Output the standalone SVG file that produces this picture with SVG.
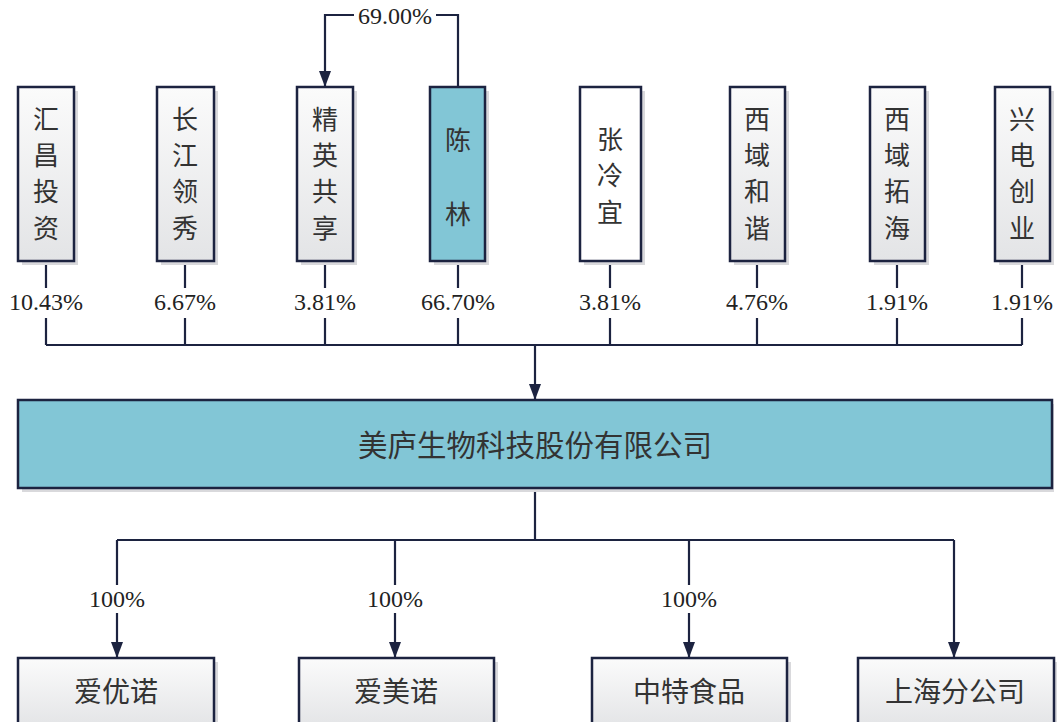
<svg xmlns="http://www.w3.org/2000/svg" width="1057" height="722" viewBox="0 0 1057 722">
<defs>
<linearGradient id="g" x1="0" y1="0" x2="0" y2="1">
<stop offset="0" stop-color="#fbfbfb"/><stop offset="1" stop-color="#e3e4e6"/>
</linearGradient>
<marker id="ad" viewBox="0 0 12 16" refX="6" refY="16" markerWidth="12" markerHeight="16" markerUnits="userSpaceOnUse" orient="0">
<path d="M0,0 L12,0 L6,16 Z" fill="#1c2340"/>
</marker>
</defs>
<style>
.box{fill:url(#g);stroke:#1c2340;stroke-width:2.5}
.blue{fill:#82c6d6;stroke:#1c2340;stroke-width:2.5}
.wht{fill:#ffffff;stroke:#1c2340;stroke-width:2.5}
.sh{fill:#d9d9dc}
.cj{font-family:"Noto Sans CJK SC","Noto Sans",sans-serif;font-size:28px;fill:#333;text-anchor:middle;dominant-baseline:central}
.v{font-size:26px}
.m{font-size:29.5px}
.pc{font-family:"Liberation Serif",serif;font-size:24px;fill:#222;text-anchor:middle;dominant-baseline:central}
.ln{fill:none;stroke:#1c2340;stroke-width:2.2}
</style>
<g id="connectors">
<path class="ln" d="M458,87 V15 H436"/>
<path class="ln" d="M354,15 H325 V87" marker-end="url(#ad)"/>
<path class="ln" d="M46,261 V288 M185,261 V288 M325,261 V288 M458,261 V288 M610,261 V288 M757,261 V288 M897,261 V288 M1022,261 V288"/>
<path class="ln" d="M46,318 V345 M185,318 V345 M325,318 V345 M458,318 V345 M610,318 V345 M757,318 V345 M897,318 V345 M1022,318 V345 M46,345 H1022"/>
<path class="ln" d="M535,345 V400" marker-end="url(#ad)"/>
<path class="ln" d="M535,488 V540 M117,540 H954 M117,540 V585 M395,540 V585 M689,540 V585"/>
<path class="ln" d="M117,613 V658" marker-end="url(#ad)"/>
<path class="ln" d="M395,613 V658" marker-end="url(#ad)"/>
<path class="ln" d="M689,613 V658" marker-end="url(#ad)"/>
<path class="ln" d="M954,540 V658" marker-end="url(#ad)"/>
<text class="pc" x="395" y="16">69.00%</text>
<text class="pc" x="46" y="302">10.43%</text>
<text class="pc" x="185" y="302">6.67%</text>
<text class="pc" x="325" y="302">3.81%</text>
<text class="pc" x="458" y="302">66.70%</text>
<text class="pc" x="610" y="302">3.81%</text>
<text class="pc" x="757" y="302">4.76%</text>
<text class="pc" x="897" y="302">1.91%</text>
<text class="pc" x="1022" y="302">1.91%</text>
<text class="pc" x="117" y="599">100%</text>
<text class="pc" x="395" y="599">100%</text>
<text class="pc" x="689" y="599">100%</text>
</g>
<g id="n1"><rect class="sh" x="22" y="91" width="56" height="174"/><rect class="box" x="18" y="87" width="56" height="174"/>
<text class="cj v" x="46" y="117">汇</text><text class="cj v" x="46" y="153">昌</text><text class="cj v" x="46" y="189">投</text><text class="cj v" x="46" y="226">资</text></g>
<g id="n2"><rect class="sh" x="161" y="91" width="57" height="174"/><rect class="box" x="157" y="87" width="57" height="174"/>
<text class="cj v" x="185" y="117">长</text><text class="cj v" x="185" y="153">江</text><text class="cj v" x="185" y="189">领</text><text class="cj v" x="185" y="226">秀</text></g>
<g id="n3"><rect class="sh" x="301" y="91" width="56" height="174"/><rect class="box" x="297" y="87" width="56" height="174"/>
<text class="cj v" x="325" y="117">精</text><text class="cj v" x="325" y="153">英</text><text class="cj v" x="325" y="189">共</text><text class="cj v" x="325" y="226">享</text></g>
<g id="n4"><rect class="sh" x="434" y="91" width="55" height="174"/><rect class="blue" x="430" y="87" width="55" height="174"/>
<text class="cj v" x="458" y="138">陈</text><text class="cj v" x="458" y="212">林</text></g>
<g id="n5"><rect class="sh" x="584" y="91" width="61" height="174"/><rect class="wht" x="580" y="87" width="61" height="174"/>
<text class="cj v" x="610" y="137">张</text><text class="cj v" x="610" y="173">冷</text><text class="cj v" x="610" y="210">宜</text></g>
<g id="n6"><rect class="sh" x="734" y="91" width="55" height="174"/><rect class="box" x="730" y="87" width="55" height="174"/>
<text class="cj v" x="757" y="117">西</text><text class="cj v" x="757" y="153">域</text><text class="cj v" x="757" y="189">和</text><text class="cj v" x="757" y="226">谐</text></g>
<g id="n7"><rect class="sh" x="874" y="91" width="55" height="174"/><rect class="box" x="870" y="87" width="55" height="174"/>
<text class="cj v" x="897" y="117">西</text><text class="cj v" x="897" y="153">域</text><text class="cj v" x="897" y="189">拓</text><text class="cj v" x="897" y="226">海</text></g>
<g id="n8"><rect class="sh" x="999" y="91" width="55" height="174"/><rect class="box" x="995" y="87" width="55" height="174"/>
<text class="cj v" x="1022" y="117">兴</text><text class="cj v" x="1022" y="153">电</text><text class="cj v" x="1022" y="189">创</text><text class="cj v" x="1022" y="226">业</text></g>
<g id="main"><rect class="sh" x="22" y="404" width="1032" height="88"/><rect class="blue" x="18" y="400" width="1034" height="88"/>
<text class="cj m" x="535" y="443">美庐生物科技股份有限公司</text></g>
<g id="c1"><rect class="sh" x="22" y="662" width="196" height="70"/><rect class="box" x="18" y="658" width="196" height="70"/><text class="cj" x="116" y="690">爱优诺</text></g>
<g id="c2"><rect class="sh" x="303" y="662" width="195" height="70"/><rect class="box" x="299" y="658" width="195" height="70"/><text class="cj" x="396" y="690">爱美诺</text></g>
<g id="c3"><rect class="sh" x="596" y="662" width="195" height="70"/><rect class="box" x="592" y="658" width="195" height="70"/><text class="cj" x="689" y="690">中特食品</text></g>
<g id="c4"><rect class="sh" x="862" y="662" width="196" height="70"/><rect class="box" x="858" y="658" width="196" height="70"/><text class="cj" x="955" y="690">上海分公司</text></g>
</svg>
